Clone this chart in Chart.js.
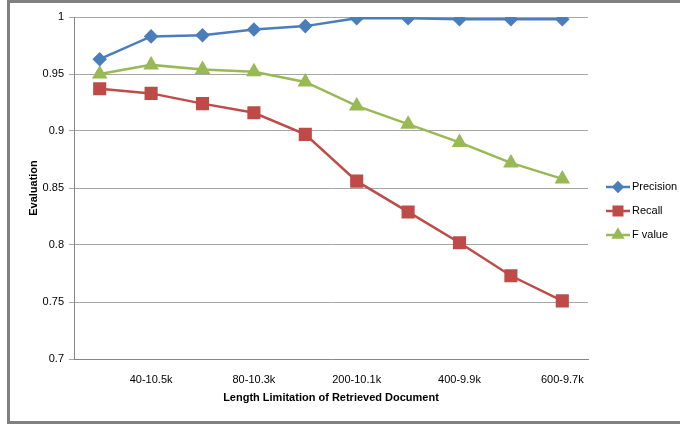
<!DOCTYPE html>
<html>
<head>
<meta charset="utf-8">
<script src="https://cdn.jsdelivr.net/npm/chart.js@4.4.0/dist/chart.umd.min.js"></script>
<style>
  html, body { margin: 0; padding: 0; background: #fff; }
  #wrap { width: 680px; height: 424px; position: relative; }
</style>
</head>
<body>
<div id="wrap"><canvas id="chart" width="680" height="424"></canvas></div>
<script>
// every other label is hidden on the axis, like in the original figure
const categories = ['20-10.6k', '40-10.5k', '60-10.4k', '80-10.3k', '100-10.2k',
  '200-10.1k', '300-10.0k', '400-9.9k', '500-9.8k', '600-9.7k'];
const precision = [0.963, 0.983, 0.984, 0.989, 0.992, 0.999, 0.999, 0.998, 0.998, 0.998];
const recall = [0.937, 0.933, 0.924, 0.916, 0.897, 0.856, 0.829, 0.802, 0.773, 0.751];
const fValue = [0.950, 0.958, 0.954, 0.952, 0.943, 0.922, 0.906, 0.890, 0.872, 0.858];
const yTicks = [0.7, 0.75, 0.8, 0.85, 0.9, 0.95, 1];

const FONT = '"Liberation Sans", Arial, sans-serif';
const TEXT = '#000';

// gray frame of the original picture (left, top, bottom)
const framePlugin = {
  id: 'frame',
  beforeDraw(chart) {
    const c = chart.ctx;
    c.save();
    c.fillStyle = '#fff';
    c.fillRect(0, 0, chart.width, chart.height);
    c.fillStyle = '#808080';
    c.fillRect(7, 0, 3, chart.height);
    c.fillRect(7, 0, chart.width - 7, 3);
    c.fillRect(7, chart.height - 3, chart.width - 7, 3);
    c.restore();
  }
};

// Excel style legend: short line with the marker on it
const sideLegend = {
  id: 'sideLegend',
  afterDraw(chart) {
    const c = chart.ctx;
    const sets = chart.data.datasets;
    const gap = 24;
    const y0 = chart.height / 2 - gap * (sets.length - 1) / 2 - 1;
    const x0 = 606, x1 = 630;
    c.save();
    sets.forEach((ds, i) => {
      const y = y0 + i * gap;
      c.strokeStyle = ds.borderColor;
      c.lineWidth = 2.5;
      c.beginPath();
      c.moveTo(x0, y);
      c.lineTo(x1, y);
      c.stroke();
      c.fillStyle = ds.borderColor;
      Chart.helpers.drawPoint(c, {
        pointStyle: ds.pointStyle,
        radius: ds.pointRadius * 0.8,
        borderWidth: 1
      }, (x0 + x1) / 2, y);
      c.fillStyle = TEXT;
      c.font = '11px ' + FONT;
      c.textAlign = 'left';
      c.textBaseline = 'middle';
      c.fillText(ds.label, x1 + 2, y);
    });
    c.restore();
  }
};

function series(label, data, color, style, r) {
  return {
    label: label,
    data: data,
    borderColor: color,
    backgroundColor: color,
    pointBackgroundColor: color,
    pointBorderColor: color,
    pointStyle: style,
    pointRadius: r,
    borderWidth: 2.5,
    tension: 0
  };
}

new Chart(document.getElementById('chart'), {
  type: 'line',
  data: {
    labels: categories,
    datasets: [
      series('Precision', precision, '#4A7EBB', 'rectRot', 5.5),
      series('Recall', recall, '#BE4B48', 'rect', 7.5),
      series('F value', fValue, '#98B954', 'triangle', 6.5)
    ]
  },
  options: {
    responsive: false,
    animation: false,
    layout: { padding: { left: 12, right: 92, top: 17, bottom: 12 } },
    plugins: {
      legend: { display: false },
      tooltip: { enabled: false }
    },
    scales: {
      x: {
        offset: true,
        grid: { display: false },
        border: { display: true, color: '#868686', width: 1 },
        ticks: {
          color: TEXT,
          font: { family: FONT, size: 11 },
          padding: 6,
          maxRotation: 0,
          autoSkip: false,
          callback: (v, i) => (i % 2 === 1 ? categories[i] : '')
        },
        title: {
          display: true,
          text: 'Length Limitation of Retrieved Document',
          color: TEXT,
          font: { family: FONT, size: 11, weight: 'bold' },
          padding: { top: 4, bottom: 7 }
        },
        afterFit: s => { s.height = 53; }
      },
      y: {
        min: 0.7,
        max: 1,
        afterBuildTicks: s => { s.ticks = yTicks.map(v => ({ value: v })); },
        grid: { color: '#A6A6A6', lineWidth: 1, tickLength: 5, drawTicks: true },
        border: { display: true, color: '#868686', width: 1 },
        ticks: {
          color: TEXT,
          font: { family: FONT, size: 11 },
          padding: 5,
          callback: v => String(+v.toFixed(2))
        },
        title: {
          display: true,
          text: 'Evaluation',
          color: TEXT,
          font: { family: FONT, size: 11, weight: 'bold' },
          padding: { top: 15, bottom: 0 }
        },
        afterFit: s => { s.width = 62; }
      }
    }
  },
  plugins: [framePlugin, sideLegend]
});
</script>
</body>
</html>
